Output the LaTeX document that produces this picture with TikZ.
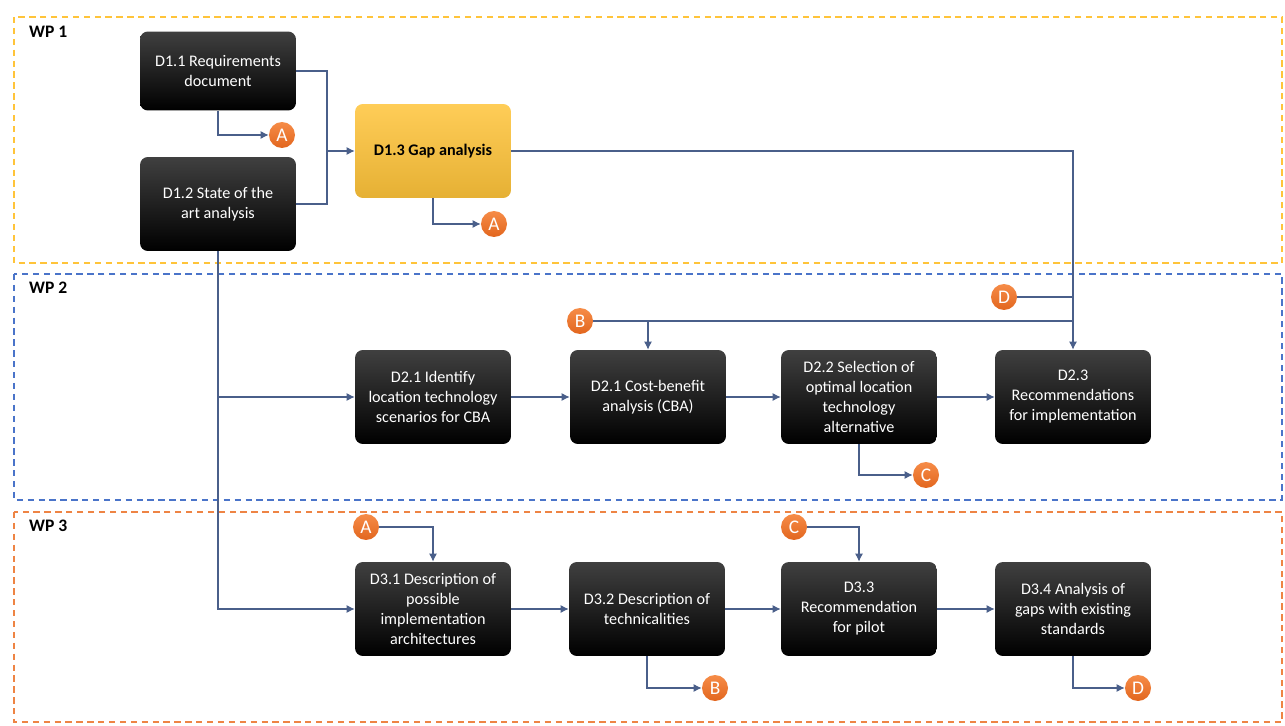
\documentclass[tikz,border=0pt]{standalone}
\usepackage{fontspec}
\setmainfont{Carlito}
\usepackage{tikz}
\usetikzlibrary{calc}
\usetikzlibrary{arrows.meta}
\tikzset{>={Latex[width=1.6mm,length=1.6mm]}}
\definecolor{wpyellow}{HTML}{FFC43A}
\definecolor{wpblue}{HTML}{4A74C9}
\definecolor{wporange}{HTML}{EE8444}
\definecolor{linkcol}{HTML}{4A5F8A}
\definecolor{circtop}{HTML}{F68C48}
\definecolor{circbot}{HTML}{E2661E}
\tikzset{
  deliv/.style={rounded corners=4.5pt, minimum width=3.12cm, minimum height=1.88cm,
    top color=black!75, middle color=black, bottom color=black, text=white,
    align=center, font=\fontsize{9.2}{11.4}\selectfont, inner sep=2pt},
  gapbox/.style={deliv, top color=wpyellow!85!white, middle color=wpyellow, bottom color=wpyellow!90!black,
    text=black, font=\fontsize{9.2}{11.4}\selectfont\bfseries},
  link/.style={circle, minimum size=0.52cm, inner sep=0pt, top color=circtop, bottom color=circbot,
    text=white, font=\fontsize{11}{13}\selectfont},
  wp/.style={dashed, dash pattern=on 3.6pt off 2.6pt, line width=0.8pt},
  wplabel/.style={anchor=west, font=\fontsize{10}{12}\selectfont\bfseries}
}

\begin{document}
\begin{tikzpicture}[x=0.02cm, y=-0.02cm]
    \useasboundingbox (0,0) rectangle (1285,726);

    % work packages
    \draw[wp, wpyellow] (14,17) rectangle (1282,263);
    \draw[wp, wpblue] (14,274) rectangle (1282,500);
    \draw[wp, wporange] (14,512) rectangle (1282,722);
    \node[wplabel] (WP1) at (23,32) {WP 1};
    \node[wplabel] (WP2) at (23,288) {WP 2};
    \node[wplabel] (WP3) at (23,526) {WP 3};

    % WP 1
    \node[deliv, minimum height=1.58cm] (D11) at (218,71) {D1.1 Requirements\\document};
    \node[deliv] (D12) at (218,204) {D1.2 State of the\\art analysis};
    \node[gapbox] (D13) at (433,151) {D1.3 Gap analysis};
    \node[link] (A1) at (282,135) {A};
    \node[link] (A2) at (494,224) {A};
    \coordinate (join) at (327,151);

    % WP 2
    \node[deliv] (D21) at (433,397) {D2.1 Identify\\location technology\\scenarios for CBA};
    \node[deliv] (CBA) at (648,397) {D2.1 Cost-benefit\\analysis (CBA)};
    \node[deliv] (D22) at (859,397) {D2.2 Selection of\\optimal location\\technology\\alternative};
    \node[deliv] (D23) at (1073,397) {D2.3\\Recommendations\\for implementation};
    \node[link] (B1) at (580,321) {B};
    \node[link] (D1) at (1004,297) {D};
    \node[link] (C1) at (926,475) {C};

    % WP 3
    \node[deliv] (D31) at (433,609) {D3.1 Description of\\possible\\implementation\\architectures};
    \node[deliv] (D32) at (647,609) {D3.2 Description of\\technicalities};
    \node[deliv] (D33) at (859,609) {D3.3\\Recommendation\\for pilot};
    \node[deliv] (D34) at (1073,609) {D3.4 Analysis of\\gaps with existing\\standards};
    \node[link] (A3) at (366,527) {A};
    \node[link] (C2) at (794,527) {C};
    \node[link] (B2) at (715,688) {B};
    \node[link] (D2) at (1138,688) {D};

    \draw[linkcol, line width=0.6pt] (D11.east) -| (join);
    \draw[linkcol, line width=0.6pt] (D12.east) -| (join);
    \draw[->, linkcol, line width=0.6pt] (join) -- (D13.west);
    \draw[->, linkcol, line width=0.6pt] (D11.south) |- (A1.west);
    \draw[->, linkcol, line width=0.6pt] (D13.south) |- (A2.west);
    \draw[->, linkcol, line width=0.6pt] (D13.east) -| (D23.north);

    \draw[->, linkcol, line width=0.6pt] (D12.south) |- (D31.west);
    \draw[->, linkcol, line width=0.6pt] (D12.south |- D21.west) -- (D21.west);
    \draw[->, linkcol, line width=0.6pt] (D21.east) -- (CBA.west);
    \draw[->, linkcol, line width=0.6pt] (CBA.east) -- (D22.west);
    \draw[->, linkcol, line width=0.6pt] (D22.east) -- (D23.west);
    \draw[->, linkcol, line width=0.6pt] (B1.east) -| (CBA.north);
    \draw[linkcol, line width=0.6pt] (B1.east) -- (B1.east -| D23.north);
    \draw[linkcol, line width=0.6pt] (D1.east) -- (D1.east -| D23.north);
    \draw[->, linkcol, line width=0.6pt] (D22.south) |- (C1.west);

    \draw[->, linkcol, line width=0.6pt] (A3.east) -| (D31.north);
    \draw[->, linkcol, line width=0.6pt] (C2.east) -| (D33.north);
    \draw[->, linkcol, line width=0.6pt] (D31.east) -- (D32.west);
    \draw[->, linkcol, line width=0.6pt] (D32.east) -- (D33.west);
    \draw[->, linkcol, line width=0.6pt] (D33.east) -- (D34.west);
    \draw[->, linkcol, line width=0.6pt] (D32.south) |- (B2.west);
    \draw[->, linkcol, line width=0.6pt] (D34.south) |- (D2.west);

  \end{tikzpicture}
\end{document}
